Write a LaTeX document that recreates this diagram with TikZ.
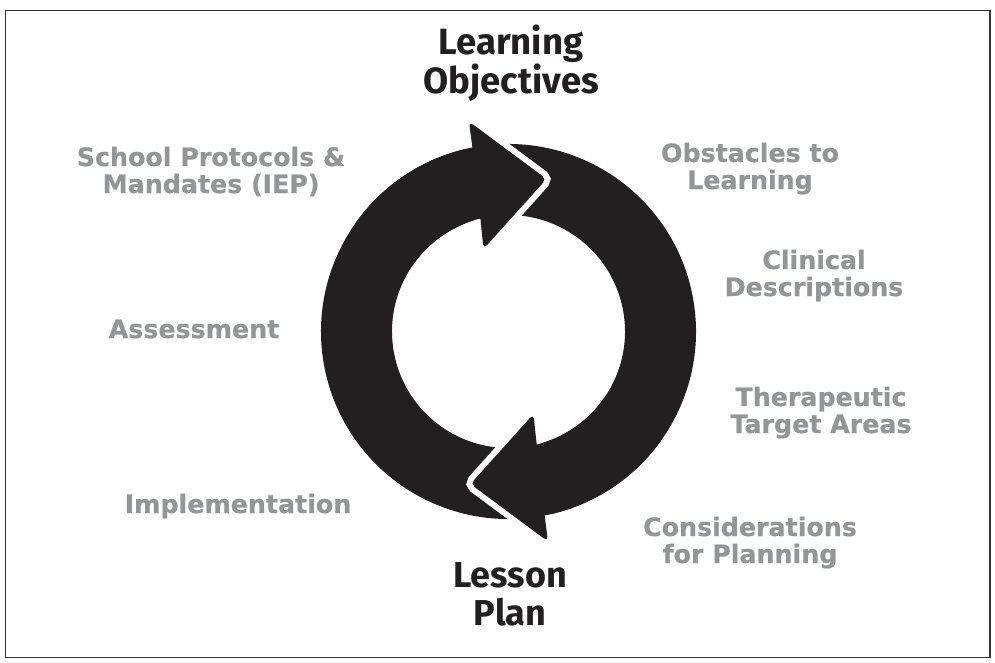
\documentclass[tikz,border=0pt]{standalone}
\usepackage{fontspec}
\newfontfamily\labelfont{DejaVu Sans}[BoldFeatures={FakeBold=0.6}]
\newfontfamily\titlefont{Fira Sans}
\usetikzlibrary{calc}
\definecolor{ink}{HTML}{231F20}
\definecolor{lab}{HTML}{939598}
\definecolor{framecol}{HTML}{333333}
\tikzset{
  frame/.style={draw=framecol, line width=1.6pt},
  grey label/.style={text=lab, align=center, inner sep=0pt, anchor=base,
    font=\labelfont\bfseries\fontsize{25.3}{27}\selectfont},
  title label/.style={text=ink, align=center, inner sep=0pt, anchor=base,
    font=\titlefont\bfseries\fontsize{36.5}{33}\selectfont},
  gapline/.style={draw=white, line width=12pt, line join=miter, fill=ink},
}
\newcommand{\Rout}{187.5}
\newcommand{\Rin}{116.5}
% one arrow piece: ring from angle #1 up to its rear edge, then the head
\newcommand{\piecepath}[1]{($(C)+(#1:\Rout)$) arc[start angle=#1, end angle=258.89, radius=\Rout]
  [rounded corners=5pt] -- (A) -- (T) -- (B) [sharp corners] -- (Pi)
  arc[start angle=256.01, end angle=#1, radius=\Rin] -- cycle}
\newcommand{\headpath}{[rounded corners=5pt] (A) -- (T) -- (B) -- cycle}
\newcommand{\headpoints}{%
  \coordinate (A) at (469,121.5);
  \coordinate (T) at (546.5,179);
  \coordinate (B) at (483.5,249);
  \coordinate (Pi) at ($(C)+(256.01:\Rin)$);}
\begin{document}
\begin{tikzpicture}[x=1pt, y=-1pt]
\useasboundingbox (0,0) rectangle (995,662);
\draw[frame] (5.5,10.5) rectangle (990,657.5);
\coordinate (C) at (508.5,331.5);
% layer 1: both ring pieces
\begin{scope}
  \headpoints
  \fill[ink] \piecepath{82};
\end{scope}
\begin{scope}[rotate around={180:(C)}]
  \headpoints
  \fill[ink] \piecepath{82};
\end{scope}
% layer 2: heads with a white gap round them
\begin{scope}
  \headpoints
  \path[gapline] \headpath;
\end{scope}
\begin{scope}[rotate around={180:(C)}]
  \headpoints
  \path[gapline] \headpath;
\end{scope}
% layer 3: refill each head and the ring next to it
\begin{scope}
  \headpoints
  \fill[ink] \piecepath{215};
\end{scope}
\begin{scope}[rotate around={180:(C)}]
  \headpoints
  \fill[ink] \piecepath{215};
\end{scope}
% titles (anchor base = baseline of the last line)
\node[title label] (lo) at (511,93) {Learning\\Objectives};
\node[title label, font=\titlefont\bfseries\fontsize{36}{38}\selectfont] (lp) at (510,625) {Lesson\\Plan};
% grey labels
\node[grey label] (school) at (211,193) {School Protocols \&\\Mandates (IEP)};
\node[grey label] (obst) at (750,189) {Obstacles to\\Learning};
\node[grey label] (clin) at (814,296) {Clinical\\Descriptions};
\node[grey label] (assess) at (194,338) {Assessment};
\node[grey label] (thera) at (821,433) {Therapeutic\\Target Areas};
\node[grey label] (impl) at (238,513) {Implementation};
\node[grey label] (consid) at (750,563) {Considerations\\for Planning};
\end{tikzpicture}
\end{document}
